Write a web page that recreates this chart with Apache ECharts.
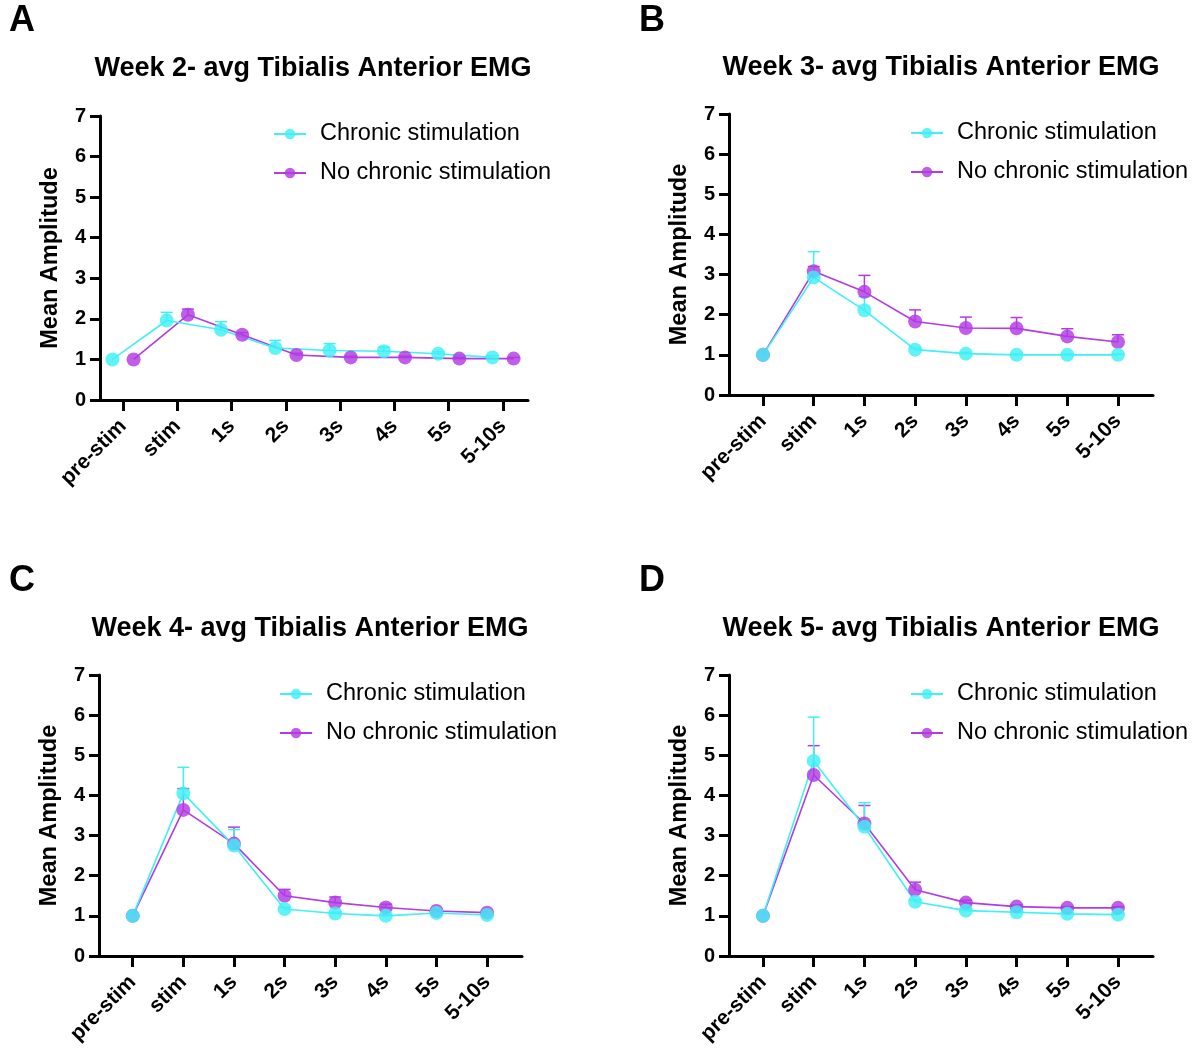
<!DOCTYPE html>
<html>
<head>
<meta charset="utf-8">
<script src="https://cdn.jsdelivr.net/npm/echarts@6/dist/echarts.min.js"></script>
<style>
  html, body { margin: 0; padding: 0; background: #fff; }
  #chart { width: 1198px; height: 1051px; }
</style>
</head>
<body>
<div id="chart"></div>
<script>
// Time bins after stimulation onset
const categories = ['pre-stim', 'stim', '1s', '2s', '3s', '4s', '5s', '5-10s'];
const seriesNames = ['Chronic stimulation', 'No chronic stimulation'];
const yTicks = [0, 1, 2, 3, 4, 5, 6, 7];

// Week 2 mean amplitude and upper error
const week2Chronic    = [1.00, 1.96, 1.73, 1.28, 1.22, 1.20, 1.14, 1.05];
const week2ChronicErr = [0.00, 0.20, 0.20, 0.19, 0.17, 0.10, 0.05, 0.04];
const week2NoStim     = [1.00, 2.10, 1.61, 1.11, 1.05, 1.05, 1.02, 1.02];
const week2NoStimErr  = [0.00, 0.14, 0.05, 0.04, 0.03, 0.03, 0.03, 0.03];

// Week 3
const week3Chronic    = [1.00, 2.93, 2.11, 1.13, 1.03, 1.00, 1.00, 1.00];
const week3ChronicErr = [0.00, 0.64, 0.34, 0.04, 0.03, 0.02, 0.02, 0.02];
const week3NoStim     = [1.00, 3.08, 2.57, 1.83, 1.67, 1.66, 1.46, 1.32];
const week3NoStimErr  = [0.00, 0.12, 0.41, 0.29, 0.27, 0.27, 0.19, 0.18];

// Week 4
const week4Chronic    = [1.00, 4.05, 2.75, 1.17, 1.06, 1.00, 1.07, 1.02];
const week4ChronicErr = [0.00, 0.65, 0.40, 0.04, 0.03, 0.03, 0.03, 0.02];
const week4NoStim     = [1.00, 3.64, 2.80, 1.50, 1.33, 1.21, 1.12, 1.08];
const week4NoStimErr  = [0.00, 0.53, 0.41, 0.16, 0.14, 0.08, 0.04, 0.03];

// Week 5
const week5Chronic    = [1.00, 4.86, 3.22, 1.35, 1.13, 1.09, 1.05, 1.03];
const week5ChronicErr = [0.00, 1.09, 0.60, 0.05, 0.04, 0.03, 0.03, 0.03];
const week5NoStim     = [1.00, 4.51, 3.30, 1.65, 1.33, 1.23, 1.20, 1.20];
const week5NoStimErr  = [0.00, 0.73, 0.45, 0.19, 0.06, 0.04, 0.03, 0.03];

const FONT = '"Liberation Sans", Arial, Helvetica, sans-serif';
const CYAN = '#3ff0f5';
const PURPLE = '#b23be3';

const panels = [
  { letter: 'A', title: 'Week 2- avg Tibialis Anterior EMG',
    chronic: week2Chronic, chronicErr: week2ChronicErr, noStim: week2NoStim, noStimErr: week2NoStimErr,
    grid: { left: 100, top: 116, width: 428, height: 284 }, xMin: -0.424, xMax: 7.46, dodge: 0.195,
    legend: { left: 273, top: 122 }, titlePos: [313, 69], letterPos: [9, 21] },
  { letter: 'B', title: 'Week 3- avg Tibialis Anterior EMG',
    chronic: week3Chronic, chronicErr: week3ChronicErr, noStim: week3NoStim, noStimErr: week3NoStimErr,
    grid: { left: 729, top: 114, width: 424, height: 281 }, xMin: -0.67, xMax: 7.69, dodge: 0,
    legend: { left: 910, top: 121 }, titlePos: [941, 68], letterPos: [639, 21] },
  { letter: 'C', title: 'Week 4- avg Tibialis Anterior EMG',
    chronic: week4Chronic, chronicErr: week4ChronicErr, noStim: week4NoStim, noStimErr: week4NoStimErr,
    grid: { left: 99, top: 675, width: 423, height: 281 }, xMin: -0.666, xMax: 7.69, dodge: 0,
    legend: { left: 279, top: 682 }, titlePos: [310, 629], letterPos: [9, 581] },
  { letter: 'D', title: 'Week 5- avg Tibialis Anterior EMG',
    chronic: week5Chronic, chronicErr: week5ChronicErr, noStim: week5NoStim, noStimErr: week5NoStimErr,
    grid: { left: 729, top: 675, width: 424, height: 281 }, xMin: -0.67, xMax: 7.69, dodge: 0,
    legend: { left: 910, top: 682 }, titlePos: [941, 629], letterPos: [639, 581] }
];

const catIdx = categories.map((_, i) => i);

function errorBarSeries(idx, xs, means, errs, color) {
  return {
    type: 'custom',
    xAxisIndex: idx, yAxisIndex: idx,
    silent: true, z: 1,
    data: xs.map((x, i) => [x, means[i], errs[i]]),
    renderItem: function (params, api) {
      const x = api.value(0), m = api.value(1), e = api.value(2);
      if (!(e > 0)) return null;
      const p0 = api.coord([x, m]);
      const p1 = api.coord([x, m + e]);
      const half = 6;
      const st = { stroke: color, lineWidth: 1.5 };
      return {
        type: 'group',
        children: [
          { type: 'line', shape: { x1: p0[0], y1: p0[1], x2: p1[0], y2: p1[1] }, style: st },
          { type: 'line', shape: { x1: p1[0] - half, y1: p1[1], x2: p1[0] + half, y2: p1[1] }, style: st }
        ]
      };
    }
  };
}

function lineSeries(idx, name, xs, means, color) {
  return {
    type: 'line', name: name,
    xAxisIndex: idx, yAxisIndex: idx,
    data: xs.map((x, i) => [x, means[i]]),
    symbol: 'circle', symbolSize: 14,
    lineStyle: { color: color, width: 1.6 },
    itemStyle: { color: color, opacity: 0.82 },
    emphasis: { disabled: true },
    z: 2
  };
}

const option = {
  animation: false,
  backgroundColor: '#ffffff',
  textStyle: { fontFamily: FONT },
  grid: [], xAxis: [], yAxis: [], legend: [], series: [], graphic: []
};

panels.forEach((p, idx) => {
  option.grid.push(Object.assign({ containLabel: false }, p.grid));

  option.xAxis.push({
    type: 'value', gridIndex: idx,
    min: p.xMin, max: p.xMax,
    axisLine: { show: true, onZero: false, lineStyle: { color: '#000', width: 3 } },
    axisTick: { show: true, customValues: catIdx, length: 11, lineStyle: { color: '#000', width: 3 } },
    axisLabel: {
      show: true, customValues: catIdx, rotate: 45, margin: 23,
      formatter: v => categories[Math.round(v)],
      color: '#000', fontWeight: 'bold', fontSize: 21, fontFamily: FONT
    },
    splitLine: { show: false }
  });

  option.yAxis.push({
    type: 'value', gridIndex: idx,
    min: yTicks[0], max: yTicks[yTicks.length - 1], interval: 1,
    name: 'Mean Amplitude', nameLocation: 'middle', nameGap: 37,
    nameTextStyle: { color: '#000', fontWeight: 'bold', fontSize: 23.5, fontFamily: FONT },
    axisLine: { show: true, onZero: false, lineStyle: { color: '#000', width: 3 } },
    axisTick: { show: true, length: 10, lineStyle: { color: '#000', width: 3 } },
    axisLabel: { color: '#000', fontWeight: 'bold', fontSize: 20, margin: 14, fontFamily: FONT },
    splitLine: { show: false }
  });

  option.legend.push({
    orient: 'vertical', left: p.legend.left, top: p.legend.top,
    padding: 0, itemGap: 15, itemWidth: 32, itemHeight: 13,
    data: seriesNames,
    selectedMode: false,
    textStyle: { color: '#000', fontSize: 23.5, lineHeight: 24, fontFamily: FONT, padding: [0, 0, 0, 9] }
  });

  const xsChronic = catIdx.map(i => i - p.dodge);
  const xsNoStim = catIdx.map(i => i + p.dodge);

  option.series.push(errorBarSeries(idx, xsNoStim, p.noStim, p.noStimErr, PURPLE));
  option.series.push(errorBarSeries(idx, xsChronic, p.chronic, p.chronicErr, CYAN));
  option.series.push(lineSeries(idx, seriesNames[1], xsNoStim, p.noStim, PURPLE));
  option.series.push(lineSeries(idx, seriesNames[0], xsChronic, p.chronic, CYAN));

  option.graphic.push({
    type: 'text', x: p.titlePos[0], y: p.titlePos[1],
    style: { text: p.title, fill: '#000', font: 'bold 27px ' + FONT, align: 'center', verticalAlign: 'middle' }
  });
  option.graphic.push({
    type: 'text', x: p.letterPos[0], y: p.letterPos[1],
    style: { text: p.letter, fill: '#000', font: 'bold 36px ' + FONT, align: 'left', verticalAlign: 'middle' }
  });
});

const chart = echarts.init(document.getElementById('chart'), null, { renderer: 'canvas' });
chart.setOption(option);
</script>
</body>
</html>
